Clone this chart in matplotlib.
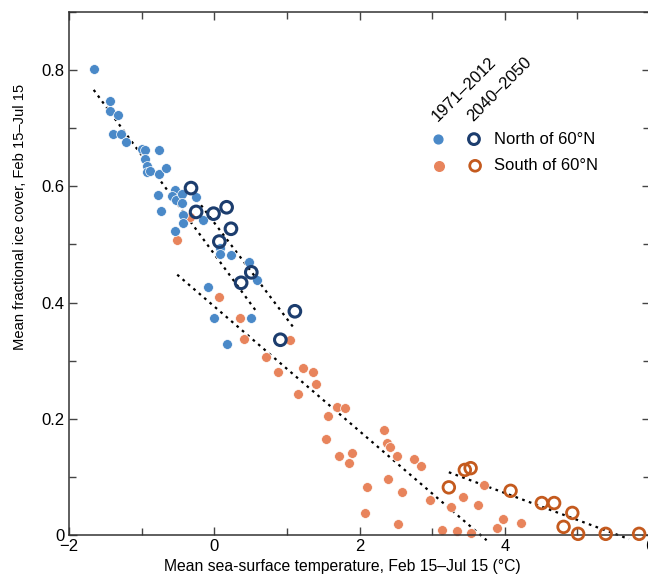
import matplotlib.pyplot as plt
from matplotlib.ticker import MultipleLocator

plt.rcParams['font.family'] = ['Liberation Sans', 'DejaVu Sans']

# North of 60N, 1971-2012 (filled)
north_hist_x = [-1.65, -1.43, -1.44, -1.32, -1.39, -1.29, -1.21, -1.00, -0.96, -0.76,
                -0.95, -0.92, -0.93, -0.88, -0.76, -0.67, -0.77, -0.73, -0.54, -0.58,
                -0.52, -0.44, -0.44, -0.43, -0.43, -0.54, -0.25, -0.15, 0.08, 0.08,
                0.23, 0.48, 0.59, -0.08, 0.00, 0.51, 0.17]
north_hist_y = [0.802, 0.747, 0.730, 0.723, 0.690, 0.690, 0.676, 0.664, 0.663, 0.663,
                0.647, 0.635, 0.625, 0.627, 0.621, 0.632, 0.585, 0.558, 0.594, 0.584,
                0.577, 0.587, 0.572, 0.551, 0.537, 0.524, 0.582, 0.542, 0.494, 0.484,
                0.482, 0.469, 0.439, 0.426, 0.373, 0.374, 0.328]

# North of 60N, 2040-2050 (open)
north_fut_x = [-0.32, -0.25, -0.01, 0.17, 0.23, 0.07, 0.51, 0.37, 1.11, 0.91]
north_fut_y = [0.597, 0.556, 0.553, 0.564, 0.527, 0.505, 0.452, 0.434, 0.385, 0.336]

# South of 60N, 1971-2012 (filled)
south_hist_x = [-0.33, -0.51, 0.07, 0.36, 0.41, 0.71, 0.88, 1.04, 1.22, 1.36,
                1.40, 1.15, 1.69, 1.80, 1.57, 1.54, 1.72, 1.90, 1.85, 2.34,
                2.38, 2.42, 2.51, 2.75, 2.84, 2.39, 2.58, 2.10, 2.07, 2.53,
                2.97, 3.26, 3.42, 3.63, 3.71, 3.13, 3.34, 3.54, 3.89, 3.98, 4.22]
south_hist_y = [0.548, 0.508, 0.410, 0.373, 0.338, 0.306, 0.280, 0.335, 0.288, 0.280,
                0.259, 0.242, 0.221, 0.218, 0.204, 0.165, 0.136, 0.141, 0.124, 0.180,
                0.158, 0.151, 0.136, 0.130, 0.118, 0.096, 0.074, 0.082, 0.038, 0.019,
                0.060, 0.048, 0.065, 0.052, 0.086, 0.009, 0.007, 0.003, 0.012, 0.027, 0.021]

# South of 60N, 2040-2050 (open)
south_fut_x = [3.23, 3.45, 3.53, 4.08, 4.51, 4.68, 4.93, 4.81, 5.01, 5.39, 5.85]
south_fut_y = [0.082, 0.112, 0.115, 0.076, 0.055, 0.055, 0.038, 0.014, 0.002, 0.002, 0.002]

# dotted fit lines (end points)
fit_north_hist = ([-1.66, 0.59], [0.766, 0.383])
fit_north_fut = ([-0.30, 1.11], [0.587, 0.354])
fit_south_hist = ([-0.51, 3.75], [0.448, -0.009])
fit_south_fut = ([3.23, 5.71], [0.108, -0.007])

blue = '#4a89c8'
navy = '#1c3d6e'
orange = '#e8845c'
rust = '#c45a1e'

fig = plt.figure(figsize=(6.48, 5.78), dpi=100)
ax = fig.add_axes([0.1065, 0.0744, 0.8966, 0.9048])

for fx, fy in [fit_north_hist, fit_north_fut, fit_south_hist, fit_south_fut]:
    ax.plot(fx, fy, color='black', lw=1.6, ls=(0, (1.2, 2.0)), zorder=1, clip_on=False)

ax.scatter(south_hist_x, south_hist_y, s=50, color=orange, edgecolor='white',
           linewidth=0.5, zorder=2, clip_on=False)
ax.scatter(north_hist_x, north_hist_y, s=50, color=blue, edgecolor='white',
           linewidth=0.5, zorder=3, clip_on=False)
ax.scatter(north_fut_x, north_fut_y, s=70, facecolor='none', edgecolor=navy,
           linewidth=2.2, zorder=4, clip_on=False)
ax.scatter(south_fut_x, south_fut_y, s=70, facecolor='none', edgecolor=rust,
           linewidth=2.0, zorder=4, clip_on=False)

# legend drawn by hand
ax.scatter([0.635], [0.757], s=40, color=blue, transform=ax.transAxes)
ax.scatter([0.697], [0.757], s=60, facecolor='none', edgecolor=navy, linewidth=2.2,
           transform=ax.transAxes)
ax.scatter([0.637], [0.706], s=48, color=orange, transform=ax.transAxes)
ax.scatter([0.699], [0.706], s=60, facecolor='none', edgecolor=rust, linewidth=2.0,
           transform=ax.transAxes)
ax.text(0.731, 0.757, 'North of 60°N', transform=ax.transAxes, fontsize=12,
        va='center', ha='left')
ax.text(0.731, 0.706, 'South of 60°N', transform=ax.transAxes, fontsize=12,
        va='center', ha='left')
ax.text(0.638, 0.786, '1971–2012', transform=ax.transAxes, fontsize=12, rotation=45,
        rotation_mode='anchor', ha='left', va='bottom')
ax.text(0.700, 0.786, '2040–2050', transform=ax.transAxes, fontsize=12, rotation=45,
        rotation_mode='anchor', ha='left', va='bottom')

ax.set_xlim(-2, 6)
ax.set_ylim(0, 0.9)
ax.xaxis.set_major_locator(MultipleLocator(2))
ax.xaxis.set_minor_locator(MultipleLocator(1))
ax.yaxis.set_minor_locator(MultipleLocator(0.1))
ax.set_yticks([0, 0.2, 0.4, 0.6, 0.8])
ax.set_yticklabels(['0', '0.2', '0.4', '0.6', '0.8'])
ax.tick_params(which='both', direction='in', top=True, right=True, labelsize=12,
               color='#444444', width=1)
ax.tick_params(which='major', length=6, pad=3)
ax.tick_params(which='minor', length=5)
for sp in ax.spines.values():
    sp.set_color('#333333')
    sp.set_linewidth(1.1)

ax.set_xlabel('Mean sea-surface temperature, Feb 15–Jul 15 (°C)', fontsize=11.3)
ax.set_ylabel('Mean fractional ice cover, Feb 15–Jul 15', fontsize=10.6)
ax.xaxis.set_label_coords(0.47, -0.045)
ax.yaxis.set_label_coords(-0.072, 0.608)

fig.savefig('out.png', dpi=100)
